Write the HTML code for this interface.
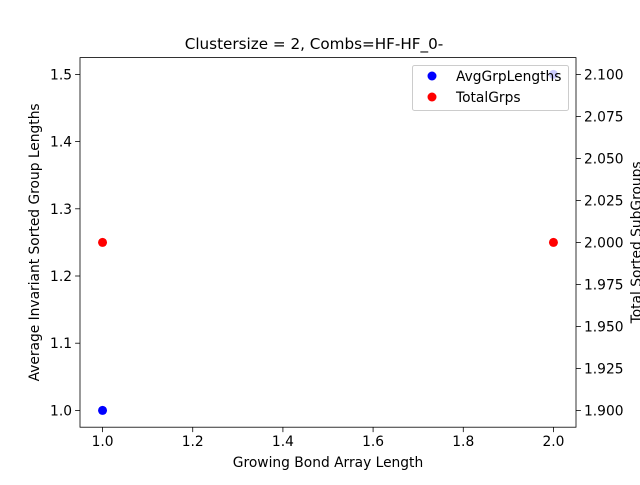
<!DOCTYPE html>
<html><head><meta charset="utf-8"><style>
body{margin:0;background:#fff}
svg text{font-family:"DejaVu Sans","Liberation Sans",sans-serif;fill:#000}
</style></head><body>
<svg id="chart" width="640" height="480" viewBox="0 0 640 480">
<rect width="640" height="480" fill="#fff"/>
<g id="g1"></g>
</svg>
<script>
const xCats=[1.0,2.0];
const avgVals=[1.0,1.5];
const totVals=[2.0,2.0];
const xTicks=[1.0,1.2,1.4,1.6,1.8,2.0];
const yLTicks=[1.0,1.1,1.2,1.3,1.4,1.5];
const yRTicks=[1.900,1.925,1.950,1.975,2.000,2.025,2.050,2.075,2.100];
const L=80,R=576,T=57.6,B=427.2;
const FS=13.8;
const xs=v=>L+(v-0.95)/(1.1)*(R-L);
const yl=v=>B-(v-0.975)/(0.55)*(B-T);
const yr=v=>B-(v-1.89)/(0.22)*(B-T);
const NS="http://www.w3.org/2000/svg";
const g=document.getElementById('g1');
function mk(t,a,txt){const e=document.createElementNS(NS,t);for(const k in a)e.setAttribute(k,a[k]);if(txt!==undefined)e.textContent=txt;g.appendChild(e);return e;}
let e;
e=mk('text',{x:314,y:49,'text-anchor':'middle','font-size':15.2},'Clustersize = 2, Combs=HF-HF_0-');


xTicks.forEach(v=>{const x=xs(v);mk('line',{x1:x,x2:x,y1:B,y2:B+4.9,stroke:'#000','stroke-width':0.8});
e=mk('text',{x:x,y:B+19,'text-anchor':'middle','font-size':FS},v.toFixed(1));

});
yLTicks.forEach(v=>{const y=yl(v);mk('line',{x1:L,x2:L-4.9,y1:y,y2:y,stroke:'#000','stroke-width':0.8});
e=mk('text',{x:L-8,y:y+5,'text-anchor':'end','font-size':FS},v.toFixed(1));

});
yRTicks.forEach(v=>{const y=yr(v);mk('line',{x1:R,x2:R+4.9,y1:y,y2:y,stroke:'#000','stroke-width':0.8});
e=mk('text',{x:R+8,y:y+5,'text-anchor':'start','font-size':FS},v.toFixed(3));

});
e=mk('text',{x:328,y:467,'text-anchor':'middle','font-size':FS},'Growing Bond Array Length');


e=mk('text',{x:0,y:0,'text-anchor':'middle','font-size':FS,transform:`translate(39,${(T+B)/2}) rotate(-90)`},'Average Invariant Sorted Group Lengths');


e=mk('text',{x:0,y:0,'text-anchor':'middle','font-size':FS,transform:`translate(641,${(T+B)/2}) rotate(-90)`},'Total Sorted SubGroups');


xCats.forEach((c,i)=>{e=mk('circle',{cx:xs(c),cy:yl(avgVals[i]),r:4.5,fill:'#0000ff'});

});
xCats.forEach((c,i)=>{e=mk('circle',{cx:xs(c),cy:yr(totVals[i]),r:4.5,fill:'#ff0000'});

});
e=mk('rect',{x:L,y:T,width:R-L,height:B-T,fill:'none',stroke:'#000','stroke-width':0.8});


e=mk('rect',{x:412.5,y:65.5,width:156,height:45,rx:2,fill:'#fff','fill-opacity':0.8,stroke:'#ccc','stroke-width':1});


e=mk('circle',{cx:432,cy:76,r:4.5,fill:'#0000ff'});


e=mk('text',{x:456,y:81,'font-size':FS},'AvgGrpLengths');


e=mk('circle',{cx:432,cy:97,r:4.5,fill:'#ff0000'});


e=mk('text',{x:456,y:102,'font-size':FS},'TotalGrps');


</script>
</body></html>
